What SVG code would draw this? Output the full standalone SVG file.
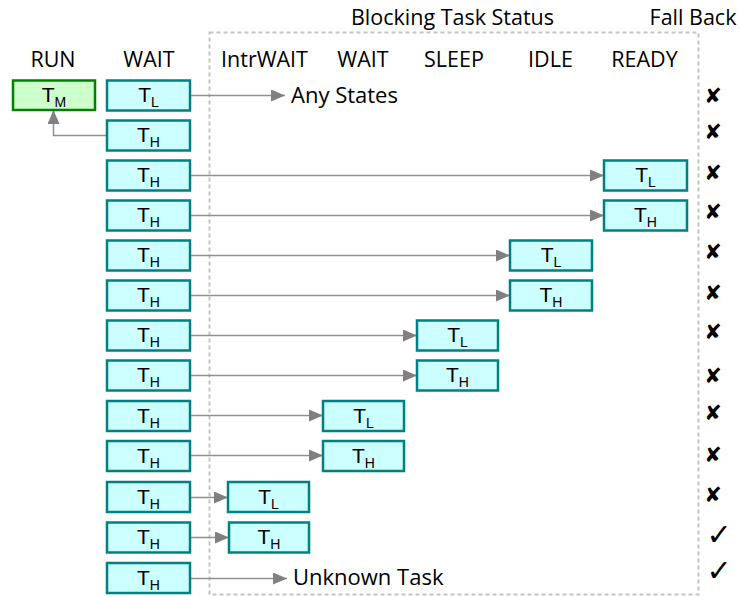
<svg xmlns="http://www.w3.org/2000/svg" width="740" height="597" viewBox="0 0 740 597">
<style>
.hdr{font-family:"Open Sans","Liberation Sans",sans-serif;font-size:21.5px;fill:#000;text-anchor:middle}
.lbl{font-family:"Open Sans","Liberation Sans",sans-serif;font-size:22px;fill:#000}
.t{font-family:"Liberation Sans",sans-serif;font-size:21px;fill:#000;text-anchor:middle}
.s{font-size:14px}
.box{fill:#CCFFFF;stroke:#008080;stroke-width:2.5}
.run{fill:#CCFFCC;stroke:#008000;stroke-width:2.5}
.con{fill:none;stroke:#909090;stroke-width:1.5}
.mk{font-family:"DejaVu Sans",sans-serif;font-size:21px;fill:#000;text-anchor:middle}
.ck{font-family:"DejaVu Sans",sans-serif;font-size:30px;font-weight:bold;fill:#000;text-anchor:middle}
</style>
<defs>
<marker id="ah" markerWidth="14" markerHeight="12" refX="14" refY="6" orient="auto" markerUnits="userSpaceOnUse">
<path d="M0,0 L14,6 L0,12 Z" fill="#808080"/>
</marker>
</defs>
<rect x="209.5" y="32.5" width="489" height="562" fill="none" stroke="#c4c4c4" stroke-width="2" stroke-dasharray="4,3"/>
<g id="headers">
<text class="hdr" x="452.5" y="25">Blocking Task Status</text>
<text class="hdr" x="693" y="25">Fall Back</text>
<text class="hdr" x="53" y="67">RUN</text>
<text class="hdr" x="149" y="67">WAIT</text>
<text class="hdr" x="264.5" y="67">IntrWAIT</text>
<text class="hdr" x="363" y="67">WAIT</text>
<text class="hdr" x="454" y="67">SLEEP</text>
<text class="hdr" x="550.5" y="67">IDLE</text>
<text class="hdr" x="644.5" y="67">READY</text>
</g>
<g id="connectors">
<line class="con" x1="190" y1="95.5" x2="285" y2="95.5" marker-end="url(#ah)"/>
<polyline class="con" points="107,135.5 53.5,135.5 53.5,110" marker-end="url(#ah)"/>
<line class="con" x1="190" y1="175.5" x2="604" y2="175.5" marker-end="url(#ah)"/>
<line class="con" x1="190" y1="215.5" x2="604" y2="215.5" marker-end="url(#ah)"/>
<line class="con" x1="190" y1="255.5" x2="510" y2="255.5" marker-end="url(#ah)"/>
<line class="con" x1="190" y1="295.5" x2="510" y2="295.5" marker-end="url(#ah)"/>
<line class="con" x1="190" y1="335.5" x2="417" y2="335.5" marker-end="url(#ah)"/>
<line class="con" x1="190" y1="375.5" x2="417" y2="375.5" marker-end="url(#ah)"/>
<line class="con" x1="190" y1="415.5" x2="323" y2="415.5" marker-end="url(#ah)"/>
<line class="con" x1="190" y1="455.5" x2="323" y2="455.5" marker-end="url(#ah)"/>
<line class="con" x1="190" y1="497.5" x2="228" y2="497.5" marker-end="url(#ah)"/>
<line class="con" x1="190" y1="537.5" x2="229" y2="537.5" marker-end="url(#ah)"/>
<line class="con" x1="190" y1="578.5" x2="287" y2="578.5" marker-end="url(#ah)"/>
</g>
<g id="run-tm"><rect class="run" x="13" y="80.5" width="82" height="29.5"/><text class="t" x="54" y="102">T<tspan class="s" dy="5">M</tspan></text></g>
<g id="wait-0"><rect class="box" x="107" y="80.5" width="83" height="30"/><text class="t" x="148.5" y="102">T<tspan class="s" dy="5">L</tspan></text></g>
<g id="wait-1"><rect class="box" x="107" y="120.5" width="83" height="30"/><text class="t" x="148.5" y="142">T<tspan class="s" dy="5">H</tspan></text></g>
<g id="wait-2"><rect class="box" x="107" y="160.5" width="83" height="30"/><text class="t" x="148.5" y="182">T<tspan class="s" dy="5">H</tspan></text></g>
<g id="wait-3"><rect class="box" x="107" y="200.5" width="83" height="30"/><text class="t" x="148.5" y="222">T<tspan class="s" dy="5">H</tspan></text></g>
<g id="wait-4"><rect class="box" x="107" y="240.5" width="83" height="30"/><text class="t" x="148.5" y="262">T<tspan class="s" dy="5">H</tspan></text></g>
<g id="wait-5"><rect class="box" x="107" y="280.5" width="83" height="30"/><text class="t" x="148.5" y="302">T<tspan class="s" dy="5">H</tspan></text></g>
<g id="wait-6"><rect class="box" x="107" y="320.5" width="83" height="30"/><text class="t" x="148.5" y="342">T<tspan class="s" dy="5">H</tspan></text></g>
<g id="wait-7"><rect class="box" x="107" y="360.5" width="83" height="30"/><text class="t" x="148.5" y="382">T<tspan class="s" dy="5">H</tspan></text></g>
<g id="wait-8"><rect class="box" x="107" y="401" width="83" height="30"/><text class="t" x="148.5" y="422.5">T<tspan class="s" dy="5">H</tspan></text></g>
<g id="wait-9"><rect class="box" x="107" y="441" width="83" height="30"/><text class="t" x="148.5" y="462.5">T<tspan class="s" dy="5">H</tspan></text></g>
<g id="wait-10"><rect class="box" x="107" y="482" width="83" height="30"/><text class="t" x="148.5" y="503.5">T<tspan class="s" dy="5">H</tspan></text></g>
<g id="wait-11"><rect class="box" x="107" y="522.5" width="83" height="30"/><text class="t" x="148.5" y="544">T<tspan class="s" dy="5">H</tspan></text></g>
<g id="wait-12"><rect class="box" x="107" y="563" width="83" height="30"/><text class="t" x="148.5" y="584.5">T<tspan class="s" dy="5">H</tspan></text></g>
<g id="ready-tl"><rect class="box" x="604" y="160.5" width="83" height="30"/><text class="t" x="645.5" y="182">T<tspan class="s" dy="5">L</tspan></text></g>
<g id="ready-th"><rect class="box" x="604" y="200.5" width="83" height="30"/><text class="t" x="645.5" y="222">T<tspan class="s" dy="5">H</tspan></text></g>
<g id="idle-tl"><rect class="box" x="510" y="240.5" width="82" height="30"/><text class="t" x="551" y="262">T<tspan class="s" dy="5">L</tspan></text></g>
<g id="idle-th"><rect class="box" x="510" y="280.5" width="82" height="30"/><text class="t" x="551" y="302">T<tspan class="s" dy="5">H</tspan></text></g>
<g id="sleep-tl"><rect class="box" x="417" y="320.5" width="81" height="30"/><text class="t" x="457.5" y="342">T<tspan class="s" dy="5">L</tspan></text></g>
<g id="sleep-th"><rect class="box" x="417" y="360.5" width="81" height="30"/><text class="t" x="457.5" y="382">T<tspan class="s" dy="5">H</tspan></text></g>
<g id="wait2-tl"><rect class="box" x="323" y="401" width="81" height="30"/><text class="t" x="363.5" y="422.5">T<tspan class="s" dy="5">L</tspan></text></g>
<g id="wait2-th"><rect class="box" x="323" y="441" width="81" height="30"/><text class="t" x="363.5" y="462.5">T<tspan class="s" dy="5">H</tspan></text></g>
<g id="intr-tl"><rect class="box" x="228" y="482" width="81" height="30"/><text class="t" x="268.5" y="503.5">T<tspan class="s" dy="5">L</tspan></text></g>
<g id="intr-th"><rect class="box" x="229" y="522.5" width="80" height="30"/><text class="t" x="269" y="544">T<tspan class="s" dy="5">H</tspan></text></g>
<g id="any-states"><text class="lbl" x="291" y="103">Any States</text></g>
<g id="unknown-task"><text class="lbl" x="293" y="585">Unknown Task</text></g>
<g id="fallback">
<text class="mk" x="713" y="103">✘</text>
<text class="mk" x="713" y="139">✘</text>
<text class="mk" x="713" y="180">✘</text>
<text class="mk" x="713" y="219">✘</text>
<text class="mk" x="713" y="259">✘</text>
<text class="mk" x="713" y="300">✘</text>
<text class="mk" x="713" y="339">✘</text>
<text class="mk" x="713" y="383">✘</text>
<text class="mk" x="713" y="420">✘</text>
<text class="mk" x="713" y="462">✘</text>
<text class="mk" x="713" y="502">✘</text>
<text class="ck" x="719" y="545">✓</text>
<text class="ck" x="719" y="581">✓</text>
</g>
</svg>
